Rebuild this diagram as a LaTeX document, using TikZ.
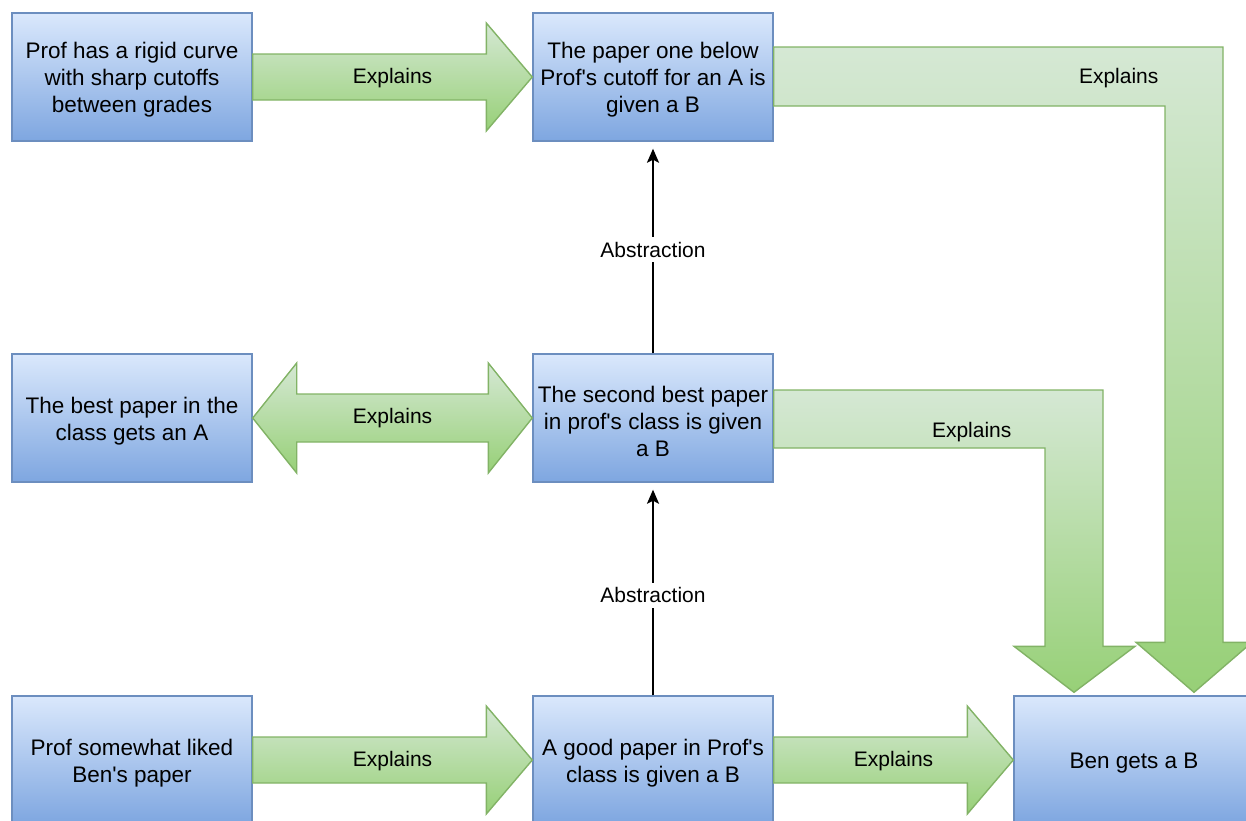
\documentclass[tikz,border=0pt]{standalone}
\usepackage{fontspec}
\setmainfont{Liberation Sans}[Ligatures=TeXOff]
\usetikzlibrary{calc,arrows.meta}
\definecolor{boxtop}{HTML}{DAE8FC}
\definecolor{boxbot}{HTML}{7EA6E0}
\definecolor{boxline}{HTML}{6C8EBF}
\definecolor{gtop}{HTML}{D5E8D4}
\definecolor{gbot}{HTML}{97D077}
\definecolor{gline}{HTML}{82B366}
\newcommand\boxstrut{\rule{0pt}{22.5pt}}
\tikzset{
  box/.style={rectangle, draw=boxline, line width=1.4pt, top color=boxtop, bottom color=boxbot,
    minimum width=240pt, minimum height=128pt, inner sep=0pt, align=center,
    font=\fontsize{22.5pt}{27pt}\selectfont},
  fat/.style={draw=gline, line width=1.4pt, top color=gtop, bottom color=gbot, line join=miter},
  lbl/.style={font=\fontsize{21pt}{25pt}\selectfont, inner sep=0pt},
  absline/.style={line width=2pt, -{Stealth[length=14pt,width=12pt,inset=3pt]}, shorten >=7pt}
}
\newcommand\fatarrow[2]{%
  \path[fat] let \p1=(#1.east), \p2=(#2.west) in
    (\x1,\y1+23pt) -- (\x2-46pt,\y1+23pt) -- (\x2-46pt,\y1+54pt) -- (\x2,\y1)
    -- (\x2-46pt,\y1-54pt) -- (\x2-46pt,\y1-23pt) -- (\x1,\y1-23pt) -- cycle;}
\begin{document}
\begin{tikzpicture}[x=1pt,y=-1pt]
\useasboundingbox (0,0) rectangle (1246,820);
\clip (0,0) rectangle (1246,820);

% boxes
\node[box] (tl) at (132,77) {\boxstrut Prof has a rigid curve\\with sharp cutoffs\\between grades};
\node[box] (tm) at (653,77) {\boxstrut The paper one below\\Prof's cutoff for an A is\\given a B};
\node[box] (ml) at (132,418) {\boxstrut The best paper in the\\class gets an A};
\node[box] (mm) at (653,418) {\boxstrut The second best paper\\in prof's class is given\\a B};
\node[box] (bl) at (132,760) {\boxstrut Prof somewhat liked\\Ben's paper};
\node[box] (bm) at (653,760) {\boxstrut A good paper in Prof's\\class is given a B};
\node[box] (ben) at (1134,760) {\boxstrut Ben gets a B};

% straight fat arrows
\fatarrow{tl}{tm}
\fatarrow{bl}{bm}
\fatarrow{bm}{ben}

% double arrow
\path[fat] let \p1=(ml.east), \p2=(mm.west) in
  (\x1,\y1) -- (\x1+44pt,\y1+55pt) -- (\x1+44pt,\y1+24pt) -- (\x2-44pt,\y1+24pt)
  -- (\x2-44pt,\y1+55pt) -- (\x2,\y1) -- (\x2-44pt,\y1-55pt) -- (\x2-44pt,\y1-24pt)
  -- (\x1+44pt,\y1-24pt) -- (\x1+44pt,\y1-55pt) -- cycle;

% L-shaped arrows
\path[fat] let \p1=(tm.east), \p2=(ben.north) in
  (\x1,\y1+30pt) -- (\x2+89pt,\y1+30pt) -- (\x2+89pt,\y2+53pt) -- (\x2+118pt,\y2+53pt)
  -- (\x2+60pt,\y2+3pt) -- (\x2+2pt,\y2+53pt) -- (\x2+31pt,\y2+53pt)
  -- (\x2+31pt,\y1-29pt) -- (\x1,\y1-29pt) -- cycle;
\path[fat] let \p1=(mm.east), \p2=(ben.north) in
  (\x1,\y1+28pt) -- (\x2-31pt,\y1+28pt) -- (\x2-31pt,\y2+49pt) -- (\x2+1pt,\y2+49pt)
  -- (\x2-60pt,\y2+3pt) -- (\x2-120pt,\y2+49pt) -- (\x2-89pt,\y2+49pt)
  -- (\x2-89pt,\y1-30pt) -- (\x1,\y1-30pt) -- cycle;

% labels
\node[lbl] (e1) at ($(tl.east)!0.5!(tm.west)+(0,1)$) {Explains};
\node[lbl] (e2) at ($(ml.east)!0.5!(mm.west)+(0,0)$) {Explains};
\node[lbl] (e3) at ($(bl.east)!0.5!(bm.west)+(0,1)$) {Explains};
\node[lbl] (e4) at ($(bm.east)!0.5!(ben.west)+(0,1)$) {Explains};
\node[lbl] (e5) at ($(tm.east)+(345,1)$) {Explains};
\node[lbl] (e6) at ($(mm.east)+(198,14)$) {Explains};

% abstraction arrows
\draw[absline] (mm.north) -- node[lbl, fill=white, inner sep=5pt, pos=0.49] (a1) {Abstraction} (tm.south);
\draw[absline] (bm.north) -- node[lbl, fill=white, inner sep=5pt, pos=0.47] (a2) {Abstraction} (mm.south);
\end{tikzpicture}
\end{document}
